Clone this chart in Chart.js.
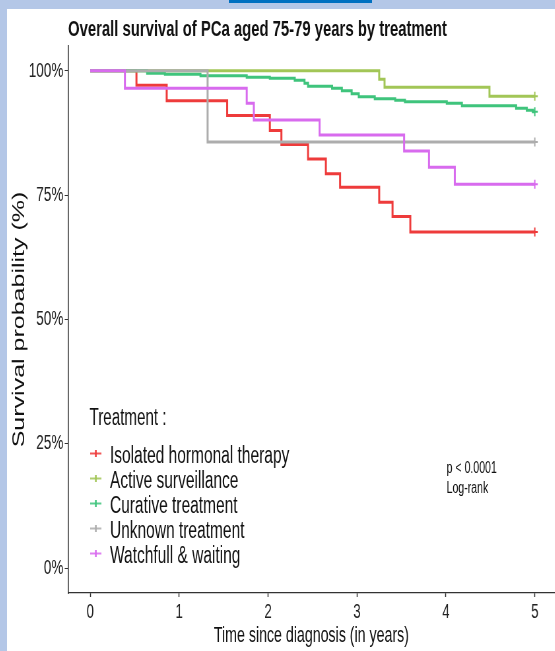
<!DOCTYPE html>
<html>
<head>
<meta charset="utf-8">
<script src="https://cdn.jsdelivr.net/npm/chart.js@4.4.0/dist/chart.umd.min.js"></script>
<style>
html, body { margin: 0; padding: 0; }
body { width: 555px; height: 651px; background: #b4c7e7; position: relative; overflow: hidden; }
#bar { position: absolute; left: 229px; top: 0; width: 143px; height: 3px; background: #0070c0; }
#panel { position: absolute; left: 7px; top: 9px; width: 548px; height: 642px; background: #fff; overflow: hidden; }
/* the reference text is horizontally condensed, so the chart is drawn wider and squeezed */
#wrap { position: absolute; left: 0; top: 0; width: 830px; height: 642px; transform: scaleX(0.66); transform-origin: 0 0; }
</style>
</head>
<body>
<div id="bar"></div>
<div id="panel"><div id="wrap"><canvas id="km"></canvas></div></div>
<script>
// Kaplan-Meier curves (time in years, survival in %)
const hormonalTime = [0, 0.52, 0.86, 1.54, 2.02, 2.15, 2.45, 2.65, 2.81, 3.25, 3.40, 3.60, 5.0];
const hormonalSurv = [100, 97.1, 94.0, 91.0, 88.0, 85.2, 82.3, 79.3, 76.6, 73.6, 70.7, 67.6, 67.6];

const activeTime = [0, 3.25, 3.31, 4.49, 5.0];
const activeSurv = [100, 98.3, 96.7, 94.9, 94.9];

const curativeTime = [0, 0.64, 0.84, 1.24, 1.76, 2.02, 2.30, 2.41, 2.45, 2.72, 2.83, 2.94, 3.02, 3.20, 3.43, 3.54, 4.01, 4.18, 4.79, 4.91, 4.98, 5.0];
const curativeSurv = [100, 99.5, 99.3, 99.0, 98.7, 98.5, 98.1, 97.5, 96.9, 96.5, 96.0, 95.4, 94.8, 94.4, 94.1, 93.8, 93.5, 93.0, 92.5, 92.1, 91.8, 91.8];

const unknownTime = [0, 1.32, 5.0];
const unknownSurv = [100, 85.7, 85.7];

const watchTime = [0, 0.39, 1.76, 1.84, 2.58, 3.53, 3.81, 4.10, 5.0];
const watchSurv = [100, 96.5, 93.5, 90.1, 87.1, 83.9, 80.6, 77.2, 77.2];

const groupNames = ['Isolated hormonal therapy', 'Active surveillance', 'Curative treatment', 'Unknown treatment', 'Watchfull & waiting'];
const groupColors = ['#ee3b3b', '#a2c657', '#3fc47c', '#adadad', '#d86bee'];

const xTicks = [0, 1, 2, 3, 4, 5];
const yTicks = [0, 25, 50, 75, 100];

const FONT = '"Liberation Sans", Arial, Helvetica, sans-serif';
Chart.defaults.font.family = FONT;

function toPoints(times, surv) {
    return times.map((t, i) => ({ x: t, y: surv[i] }));
}

const series = [
    toPoints(hormonalTime, hormonalSurv),
    toPoints(activeTime, activeSurv),
    toPoints(curativeTime, curativeSurv),
    toPoints(unknownTime, unknownSurv),
    toPoints(watchTime, watchSurv)
];

// legend inside the plot plus the log-rank note
const kmLegend = {
    id: 'kmLegend',
    afterDraw(chart) {
        const ctx = chart.ctx;
        ctx.save();
        ctx.fillStyle = '#111';
        ctx.textBaseline = 'alphabetic';
        ctx.font = '23px ' + FONT;
        ctx.fillText('Treatment :', 125, 416);

        chart.data.datasets.forEach((ds, i) => {
            const cy = 444.5 + i * 25;
            ctx.strokeStyle = ds.borderColor;
            ctx.globalAlpha = 0.85;
            ctx.lineWidth = 2;
            ctx.beginPath();
            ctx.moveTo(126, cy);
            ctx.lineTo(143, cy);
            ctx.stroke();
            ctx.lineWidth = 3;
            ctx.beginPath();
            ctx.moveTo(134.5, cy - 3.5);
            ctx.lineTo(134.5, cy + 3.5);
            ctx.stroke();
            ctx.globalAlpha = 1;
            ctx.fillStyle = '#111';
            ctx.font = '23.5px ' + FONT;
            ctx.fillText(ds.label, 156, cy + 9.3);
        });

        ctx.font = '16px ' + FONT;
        ctx.fillText('p < 0.0001', 666, 464);
        ctx.fillText('Log-rank', 666, 484);
        ctx.restore();
    }
};

new Chart(document.getElementById('km'), {
    type: 'line',
    data: {
        datasets: series.map((pts, i) => ({
            label: groupNames[i],
            data: pts,
            borderColor: groupColors[i],
            backgroundColor: groupColors[i],
            borderWidth: 3,
            stepped: 'before',
            fill: false,
            pointStyle: 'cross',
            pointBorderWidth: 2,
            pointRadius: c => (c.dataIndex === pts.length - 1 ? 4.5 : 0),
            pointHoverRadius: 0,
            order: series.length - i
        }))
    },
    options: {
        responsive: true,
        maintainAspectRatio: false,
        animation: false,
        layout: { padding: 0, autoPadding: false },
        plugins: {
            legend: { display: false },
            tooltip: { enabled: false },
            title: {
                display: true,
                text: 'Overall survival of PCa aged 75-79 years by treatment',
                align: 'start',
                fullSize: false,
                color: '#111',
                font: { size: 22.5, weight: 'bold' },
                padding: { top: 7, bottom: 3 }
            }
        },
        scales: {
            x: {
                type: 'linear',
                min: -0.25,
                max: 5.225,
                afterBuildTicks: s => { s.ticks = xTicks.map(v => ({ value: v })); },
                afterFit: s => { s.height = 58; },
                grid: { drawOnChartArea: false, drawTicks: true, tickLength: 4, tickColor: '#333', tickWidth: 1.5 },
                border: { color: '#333', width: 1.2 },
                ticks: { padding: 3, color: '#222', font: { size: 20 }, maxRotation: 0, autoSkip: false },
                title: {
                    display: true,
                    text: 'Time since diagnosis (in years)',
                    color: '#111',
                    font: { size: 21.5 },
                    padding: { top: 0, bottom: 2 }
                }
            },
            y: {
                min: -5,
                max: 105,
                afterBuildTicks: s => { s.ticks = yTicks.map(v => ({ value: v })); },
                afterFit: s => { s.width = 92.4; },
                grid: { drawOnChartArea: false, drawTicks: true, tickLength: 5, tickColor: '#333', tickWidth: 1 },
                border: { color: '#333', width: 1.6 },
                ticks: { padding: 2, color: '#222', font: { size: 20.5 }, callback: v => v + '%' },
                title: {
                    display: true,
                    text: 'Survival probability (%)',
                    color: '#111',
                    font: { size: 25 },
                    padding: { top: 4, bottom: 0 }
                }
            }
        }
    },
    plugins: [kmLegend]
});
</script>
</body>
</html>
